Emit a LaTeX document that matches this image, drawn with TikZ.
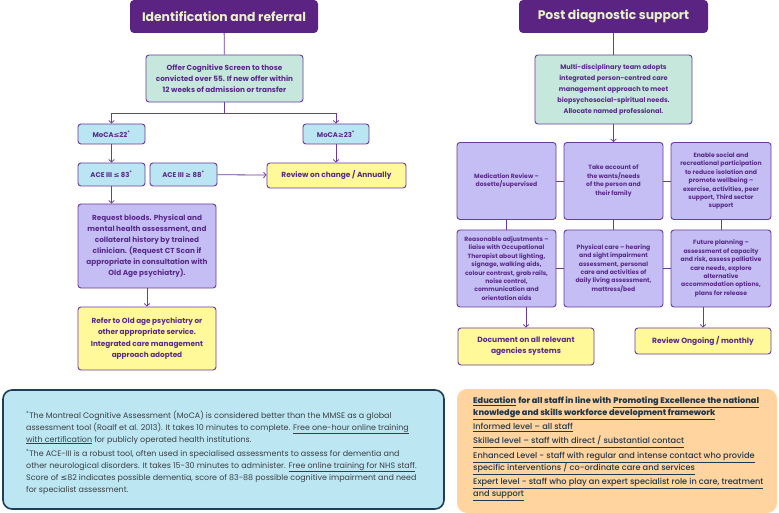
\documentclass[tikz,border=0pt]{standalone}
\usepackage{fontspec}
\setmainfont{Poppins}
\newfontfamily\symfont{DejaVu Sans}
\newfontfamily\mediumfont[Ligatures=TeX]{Poppins Medium}
\usetikzlibrary{arrows.meta}
\definecolor{titlepurple}{HTML}{5B2482}
\definecolor{titletext}{HTML}{E6F2C2}
\definecolor{linepurple}{HTML}{6B3A9C}
\definecolor{textpurple}{HTML}{5A2A8A}
\definecolor{mint}{HTML}{C6E8DC}
\definecolor{skyblue}{HTML}{B9E6F2}
\definecolor{lavender}{HTML}{C4BEF4}
\definecolor{paleyellow}{HTML}{FFF99A}
\definecolor{noteblue}{HTML}{BBE6F2}
\definecolor{notenavy}{HTML}{1E3E57}
\definecolor{noteorange}{HTML}{FFD49F}
\definecolor{notegrey}{HTML}{3A3F44}
\definecolor{eduink}{HTML}{20384C}
\newcommand{\lesym}{{\symfont ≤}}
\newcommand{\gesym}{{\symfont ≥}}
\newcommand{\linkline}[1]{\underline{#1}}

\begin{document}
\begin{tikzpicture}[x=1pt,y=-1pt,
title/.style={fill=titlepurple, text=titletext, rounded corners=4pt, font=\bfseries\fontsize{12.4}{14}\selectfont, minimum height=33pt},
box/.style={draw=linepurple, line width=0.9pt, rounded corners=3pt, text=textpurple, align=center, inner sep=1pt, font=\bfseries\fontsize{7.3}{11.1}\selectfont},
small/.style={font=\bfseries\fontsize{6.1}{8.4}\selectfont},
link/.style={draw=linepurple, line width=0.8pt},
arrow/.style={link, -{Straight Barb[length=2.5pt,width=5.5pt]}}]
\useasboundingbox (0,0) rectangle (779,513);

% identification and referral
\node[title, minimum width=188pt] (identify) at (224,16.5) {Identification and referral};
\node[box, fill=mint, minimum width=157pt, minimum height=47pt] (screen) at (224.5,78.5) {Offer Cognitive Screen to those\\convicted over 55. If new offer within\\12 weeks of admission or transfer};
\node[box, fill=skyblue, minimum width=67pt, minimum height=20pt, font=\bfseries\fontsize{6.9}{11}\selectfont] (mocalow) at (111.5,134) {MoCA\lesym22\textsuperscript{*}};
\node[box, fill=skyblue, minimum width=66pt, minimum height=20pt, font=\bfseries\fontsize{6.9}{11}\selectfont] (mocahigh) at (336,134) {MoCA\gesym23\textsuperscript{*}};
\node[box, fill=skyblue, minimum width=67pt, minimum height=23pt, font=\bfseries\fontsize{6.9}{11}\selectfont] (acelow) at (111.5,174.5) {ACE III \lesym\ 83\textsuperscript{*}};
\node[box, fill=skyblue, minimum width=67pt, minimum height=23pt, font=\bfseries\fontsize{6.9}{11}\selectfont] (acehigh) at (183.5,174.5) {ACE III \gesym\ 88\textsuperscript{*}};
\node[box, fill=paleyellow, minimum width=139pt, minimum height=25pt, font=\bfseries\fontsize{7.4}{11}\selectfont] (review) at (336.5,175.5) {Review on change / Annually};
\node[box, fill=lavender, minimum width=138pt, minimum height=84pt] (bloods) at (147,246) {Request bloods. Physical and\\mental health assessment, and\\collateral history by trained\\clinician. (Request CT Scan if\\appropriate in consultation with\\Old Age psychiatry).};
\node[box, fill=paleyellow, minimum width=138pt, minimum height=63pt] (refer) at (147,338.5) {Refer to Old age psychiatry or\\other appropriate service.\\Integrated care management\\approach adopted};

\coordinate (split) at (224.5,113);
\draw[link] (identify) -- (screen);
\draw[link] (screen) -- (split);
\draw[arrow] (split) -| (mocalow);
\draw[arrow] (split) -| (mocahigh);
\draw[arrow] (mocalow) -- (acelow);
\draw[arrow] (mocahigh.south) -- (mocahigh.south |- review.north);
\draw[arrow] (acehigh) -- (review);
\draw[arrow] (acelow.south) -- (acelow.south |- bloods.north);
\draw[arrow] (bloods) -- (refer);

% post diagnostic support
\node[title, minimum width=189pt] (support) at (613.5,16.5) {Post diagnostic support};
\node[box, fill=mint, minimum width=157pt, minimum height=69pt, font=\bfseries\fontsize{6.6}{11.1}\selectfont] (team) at (613.5,89.5) {Multi-disciplinary team adopts\\integrated person-centred care\\management approach to meet\\biopsychosocial-spiritual needs.\\Allocate named professional.};
\node[box, small, fill=lavender, minimum width=99pt, minimum height=77pt] (medication) at (506.5,181) {Medication Review --\\dosette/supervised};
\node[box, small, fill=lavender, minimum width=99pt, minimum height=77pt] (wants) at (613.5,181) {Take account of\\the wants/needs\\of the person and\\their family};
\node[box, small, fill=lavender, minimum width=100pt, minimum height=77pt] (social) at (721,181) {Enable social and\\recreational participation\\to reduce isolation and\\promote wellbeing --\\exercise, activities, peer\\support, Third sector\\support};
\node[box, small, fill=lavender, minimum width=99pt, minimum height=77pt] (adjust) at (506.5,268.5) {Reasonable adjustments --\\liaise with Occupational\\Therapist about lighting,\\signage, walking aids,\\colour contrast, grab rails,\\noise control,\\communication and\\orientation aids};
\node[box, small, fill=lavender, minimum width=99pt, minimum height=77pt] (physical) at (613.5,268.5) {Physical care -- hearing\\and sight impairment\\assessment, personal\\care and activities of\\daily living assessment,\\mattress/bed};
\node[box, small, fill=lavender, minimum width=100pt, minimum height=77pt] (planning) at (721,268.5) {Future planning --\\assessment of capacity\\and risk, assess palliative\\care needs, explore\\alternative\\accommodation options,\\plans for release};
\node[box, fill=paleyellow, minimum width=136pt, minimum height=37pt, font=\bfseries\fontsize{7.5}{11}\selectfont] (document) at (526,346.5) {Document on all relevant\\agencies systems};
\node[box, fill=paleyellow, minimum width=136pt, minimum height=26pt, font=\bfseries\fontsize{7.5}{11}\selectfont] (ongoing) at (703,341) {Review Ongoing / monthly};

\draw[link] (support) -- (team);
\draw[arrow] (team) -- (wants);
\draw[link] (medication) -- (wants);
\draw[link] (wants) -- (social);
\draw[link] (adjust) -- (physical);
\draw[link] (physical) -- (planning);
\draw[link] (medication) -- (adjust);
\draw[link] (wants) -- (physical);
\draw[link] (social) -- (planning);
\draw[arrow] (document.north |- adjust.south) -- (document);
\draw[arrow] (ongoing.north |- planning.south) -- (ongoing);

% notes
\node[draw=notenavy, line width=1.6pt, fill=noteblue, rounded corners=9pt, minimum width=441pt, minimum height=119pt] (tools) at (223.5,449.5) {};
\node[anchor=north west, align=left, inner sep=0pt, text=notegrey, font=\fontsize{7.95}{12}\selectfont] (toolstext) at (26,410.5) {\textsuperscript{*}The Montreal Cognitive Assessment (MoCA) is considered better than the MMSE as a global\\assessment tool (Roalf et al. 2013). It takes 10 minutes to complete. \linkline{Free one-hour online training}\\\linkline{with certification} for publicly operated health institutions.\\[2pt]\textsuperscript{*}The ACE-III is a robust tool, often used in specialised assessments to assess for dementia and\\other neurological disorders. It takes 15-30 minutes to administer. \linkline{Free online training for NHS staff}.\\Score of \lesym82 indicates possible dementia, score of 83-88 possible cognitive impairment and need\\for specialist assessment.};
\node[fill=noteorange, rounded corners=10pt, minimum width=320pt, minimum height=124pt] (education) at (617,451) {};
\node[anchor=north west, align=left, inner sep=0pt, text=eduink, font=\mediumfont\fontsize{8.2}{12}\selectfont] (educationtext) at (473,397) {\textbf{\linkline{Education}} \textbf{for all staff in line with} \textbf{\linkline{Promoting Excellence the national}}\\\textbf{\linkline{knowledge and skills workforce development framework}}\\[1.5pt]\linkline{Informed level – all staff}\\[2.5pt]\linkline{Skilled level – staff with direct / substantial contact}\\[2.5pt]\linkline{Enhanced Level - staff with regular and intense contact who provide}\\\linkline{specific interventions / co-ordinate care and services}\\[2.5pt]\linkline{Expert level - staff who play an expert specialist role in care, treatment}\\\linkline{and support}};
\end{tikzpicture}
\end{document}
